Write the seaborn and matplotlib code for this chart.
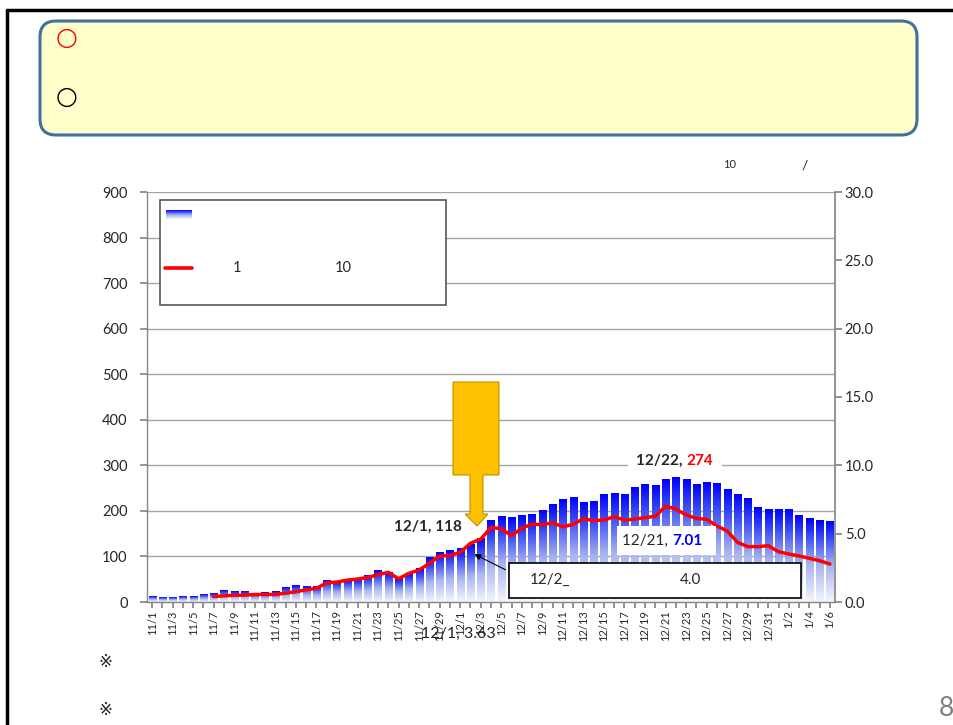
import numpy as np
import pandas as pd
import matplotlib
matplotlib.use('Agg')
import matplotlib.pyplot as plt
import seaborn as sns
from matplotlib.colors import LinearSegmentedColormap
from matplotlib.patches import FancyBboxPatch, Rectangle, Polygon, FancyArrowPatch
from matplotlib.transforms import IdentityTransform
from matplotlib.lines import Line2D

# categories: 11/1 .. 1/6
dates = [f"{d.month}/{d.day}" for d in pd.date_range("2020-11-01", "2021-01-06")]

cases_nov = [13, 9, 9, 11, 13, 16, 19, 25, 22, 22, 18, 21, 24, 31, 37, 33, 35, 48, 45, 50,
             52, 59, 70, 64, 52, 62, 74, 97, 109, 112]
cases_dec = [118, 127, 140, 180, 187, 185, 189, 191, 200, 213, 226, 230, 218, 220, 235, 239,
             235, 252, 257, 255, 269, 274, 269, 259, 263, 260, 248, 237, 228, 208, 204]
cases_jan = [204, 204, 189, 184, 180, 176]
cases = cases_nov + cases_dec + cases_jan

rate_nov = [np.nan] * 6 + [0.4, 0.45, 0.5, 0.5, 0.55, 0.55, 0.55, 0.65, 0.75, 0.9, 1.0, 1.4,
                           1.46, 1.6, 1.68, 1.8, 2.0, 2.17, 1.7, 2.1, 2.34, 2.83, 3.37, 3.4]
rate_dec = [3.63, 4.3, 4.6, 5.45, 5.37, 4.85, 5.4, 5.7, 5.65, 5.8, 5.5, 5.68, 6.1, 5.95, 6.0,
            6.24, 6.0, 6.07, 6.17, 6.27, 7.01, 6.8, 6.37, 6.12, 6.05, 5.56, 5.2, 4.37, 4.05,
            4.05, 4.12]
rate_jan = [3.68, 3.51, 3.37, 3.2, 3.02, 2.78]
rate = rate_nov + rate_dec + rate_jan

left_ticks = list(range(0, 901, 100))
right_ticks = [0, 5, 10, 15, 20, 25, 30]

sns.set_theme(style='white')
plt.rcParams['font.family'] = ['Lato', 'DejaVu Sans']

W, H = 954, 725
fig = plt.figure(figsize=(W / 100, H / 100), dpi=100)
fig.patch.set_facecolor('white')
PIX = IdentityTransform()


def Y(y):
    return H - y


grad_cmap = LinearSegmentedColormap.from_list(
    'bar', [(0, '#F4F6FD'), (0.45, '#A7B4EF'), (0.8, '#3546F6'), (1, '#0000FF')])
grad = np.linspace(0, 1, 256).reshape(-1, 1)

ax = fig.add_axes([147 / W, 1 - 602 / H, 688 / W, 410 / H])
sns.barplot(x=dates, y=cases, order=dates, ax=ax, width=0.7, color='blue')

# gradient fill per bar
for p in list(ax.patches):
    x0, w, h = p.get_x(), p.get_width(), p.get_height()
    p.set_visible(False)
    ax.imshow(grad, extent=[x0, x0 + w, 0, h], origin='lower', aspect='auto',
              cmap=grad_cmap, zorder=2)

n = len(dates)
ax.set_xlim(-0.5, n - 0.5)
ax.set_ylim(0, 900)
ax.set_yticks(left_ticks)
ax.set_yticklabels([str(v) for v in left_ticks], fontsize=10.5)
ax.yaxis.grid(True, color='#A6A6A6', lw=1)
ax.set_axisbelow(True)
ax.set_xticks(range(n))
ax.set_xticklabels([d if i % 2 == 0 else '' for i, d in enumerate(dates)],
                   rotation=90, fontsize=8)
ax.tick_params(axis='x', bottom=True, length=4, color='#868686', pad=2)
ax.tick_params(axis='y', left=True, length=5, color='#868686', pad=9)
for s in ['top', 'right']:
    ax.spines[s].set_visible(False)
for s in ['left', 'bottom']:
    ax.spines[s].set_color('#868686')
    ax.spines[s].set_linewidth(1)
ax.set_xlabel('')
ax.set_ylabel('')

ax2 = ax.twinx()
sns.lineplot(x=np.arange(n), y=rate, ax=ax2, color='red', lw=2.5)
ax2.set_ylim(0, 30)
ax2.set_xlim(-0.5, n - 0.5)
ax2.set_yticks(right_ticks)
ax2.set_yticklabels([f"{v:.1f}" for v in right_ticks], fontsize=10.5)
ax2.tick_params(axis='y', right=True, length=5, color='#868686', pad=2)
ax2.grid(False)
for s in ['top', 'left', 'bottom']:
    ax2.spines[s].set_visible(False)
ax2.spines['right'].set_color('#868686')
ax2.set_ylabel('')

# outer frame
fig.add_artist(Line2D([7, W], [Y(10), Y(10)], transform=PIX, color='black', lw=2.5))
fig.add_artist(Line2D([7, 7], [Y(10), 0], transform=PIX, color='black', lw=2.5))

# yellow header box
fig.add_artist(FancyBboxPatch((40, Y(135)), 877, 114, boxstyle='round,pad=0,rounding_size=16',
                              transform=PIX, fc='#FFFFCC', ec='#41719C', lw=2.2))
fig.text(67 / W, 1 - 38 / H, '○', color='red', fontsize=18, ha='center', va='center',
         family='DejaVu Sans')
fig.text(67 / W, 1 - 97 / H, '○', color='black', fontsize=18, ha='center', va='center',
         family='DejaVu Sans')

# unit texts
fig.text(730 / W, 1 - 165 / H, '10', fontsize=8, ha='center', va='center')
fig.text(805 / W, 1 - 165 / H, '/', fontsize=10, ha='center', va='center')

# legend box
fig.add_artist(Rectangle((160, Y(305)), 286, 105, transform=PIX, fc='white',
                         ec='#595959', lw=1.2, zorder=5))
sw = fig.add_axes([166 / W, 1 - 219 / H, 26 / W, 9 / H], zorder=6)
sw.imshow(grad, origin='lower', aspect='auto', cmap=grad_cmap)
sw.axis('off')
fig.add_artist(Line2D([165, 192], [Y(268), Y(268)], transform=PIX, color='red', lw=2.6,
                      zorder=6))
fig.text(237 / W, 1 - 268 / H, '1', fontsize=10.5, ha='center', va='center', zorder=6)
fig.text(343 / W, 1 - 268 / H, '10', fontsize=10.5, ha='center', va='center', zorder=6)

# orange arrow
arrow_pts = [(453, 382), (499, 382), (499, 475), (483, 475), (483, 514), (488, 514),
             (477, 526), (465, 514), (470, 514), (470, 475), (453, 475)]
fig.add_artist(Polygon([(x, Y(y)) for x, y in arrow_pts], closed=True, transform=PIX,
                       fc='#FFC000', ec='#C09000', lw=0.8, zorder=5))

# annotations
fig.text(428 / W, 1 - 527 / H, '12/1, 118', fontsize=11, fontweight='bold', ha='center',
         va='center', zorder=6)

fig.add_artist(Rectangle((628, Y(472)), 94, 22, transform=PIX, fc='white', ec='none', zorder=5))
fig.text(686 / W, 1 - 461 / H, '12/22, ', fontsize=11, fontweight='bold', ha='right',
         va='center', zorder=6)
fig.text(686 / W, 1 - 461 / H, '274', fontsize=11, fontweight='bold', color='red', ha='left',
         va='center', zorder=6)

fig.add_artist(Rectangle((617, Y(555)), 99, 29, transform=PIX, fc='white', ec='none', zorder=5))
fig.text(672 / W, 1 - 541 / H, '12/21, ', fontsize=11, ha='right', va='center', zorder=6)
fig.text(672 / W, 1 - 541 / H, '7.01', fontsize=11, fontweight='bold', color='#0000FF',
         ha='left', va='center', zorder=6)

fig.add_artist(Rectangle((509, Y(598)), 292, 35, transform=PIX, fc='white', ec='black',
                         lw=1.2, zorder=5))
fig.text(530 / W, 1 - 580 / H, '12/2_', fontsize=11, ha='left', va='center', zorder=6)
fig.text(690 / W, 1 - 580 / H, '4.0', fontsize=11, ha='center', va='center', zorder=6)
fig.add_artist(FancyArrowPatch((508, Y(571)), (472, Y(553)), transform=PIX, arrowstyle='-|>',
                               mutation_scale=9, color='black', lw=0.8, zorder=6))

fig.text(458 / W, 1 - 634 / H, '12/1, 3.63', fontsize=11.5, ha='center', va='center', zorder=6)

# footnotes and page number
fig.text(105 / W, 1 - 662 / H, '※', fontsize=12, ha='center', va='center')
fig.text(105 / W, 1 - 710 / H, '※', fontsize=12, ha='center', va='center')
fig.text(946 / W, 1 - 708 / H, '8', fontsize=19, color='#7F7F7F', ha='center', va='center')

fig.savefig('out.png', dpi=100)
